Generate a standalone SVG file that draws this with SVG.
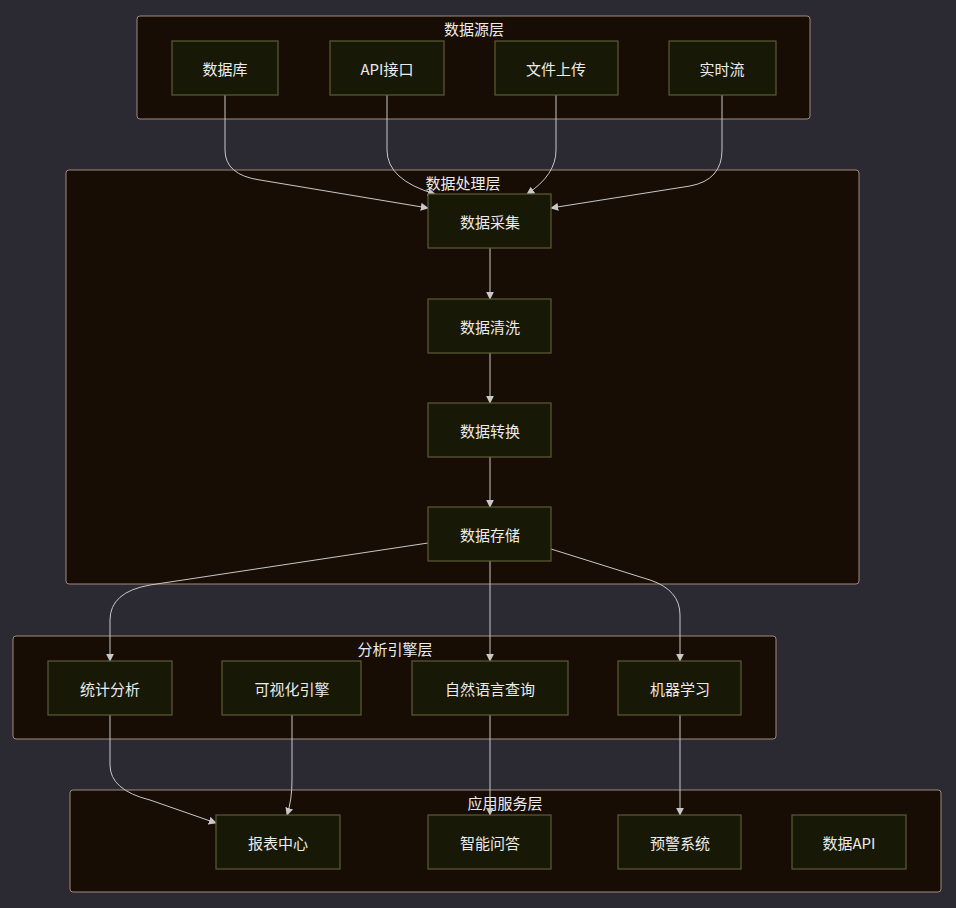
<svg xmlns="http://www.w3.org/2000/svg" width="956" height="908" viewBox="0 0 956 908">
<style>
.cl{fill:#180d05;stroke:#a08a78;stroke-width:1}
.nd{fill:#181807;stroke:#5c5c38;stroke-width:1.2}
text{font-family:"Noto Sans CJK SC","Liberation Sans",sans-serif;font-size:15px;fill:#ececec;text-anchor:middle;dominant-baseline:central}
.e{fill:none;stroke:#c8c8c8;stroke-width:1}
</style>
<defs><marker id="a" viewBox="0 0 10 10" refX="9" refY="5" markerWidth="8" markerHeight="8" orient="auto"><path d="M0 0L10 5L0 10z" fill="#c8c8c8"/></marker></defs>
<rect width="956" height="908" fill="#2b2a33"/>
<g id="c1"><rect class="cl" x="137" y="16" width="673" height="103" rx="3"/><text x="474" y="28">数据源层</text></g>
<g id="c2"><rect class="cl" x="66" y="170" width="793" height="414" rx="3"/><text x="463" y="182">数据处理层</text></g>
<g id="c3"><rect class="cl" x="13" y="636" width="763" height="103" rx="3"/><text x="395" y="648">分析引擎层</text></g>
<g id="c4"><rect class="cl" x="70" y="790" width="871" height="102" rx="3"/><text x="505" y="802">应用服务层</text></g>
<g id="edges">
<path class="e" marker-end="url(#a)" d="M225 95V150Q225 175 260 180L428 208"/>
<path class="e" marker-end="url(#a)" d="M387 95V150Q387 180 435 194"/>
<path class="e" marker-end="url(#a)" d="M556 95V150Q556 175 527 194"/>
<path class="e" marker-end="url(#a)" d="M722 95V150Q722 180 690 186L551 208"/>
<path class="e" marker-end="url(#a)" d="M490 248V299"/>
<path class="e" marker-end="url(#a)" d="M490 353V403"/>
<path class="e" marker-end="url(#a)" d="M490 457V507"/>
<path class="e" marker-end="url(#a)" d="M428 543L150 585Q110 592 110 620V661"/>
<path class="e" marker-end="url(#a)" d="M490 561V661"/>
<path class="e" marker-end="url(#a)" d="M551 549L650 580Q680 590 680 615V661"/>
<path class="e" marker-end="url(#a)" d="M110 715V765Q110 790 150 800L216 823"/>
<path class="e" marker-end="url(#a)" d="M292 715V780Q292 800 287 815"/>
<path class="e" marker-end="url(#a)" d="M490 715V815"/>
<path class="e" marker-end="url(#a)" d="M680 715V815"/>
</g>
<g id="n1"><rect class="nd" x="172" y="41" width="106" height="54"/><text x="225" y="68">数据库</text></g>
<g id="n2"><rect class="nd" x="330" y="41" width="114" height="54"/><text x="387" y="68">API接口</text></g>
<g id="n3"><rect class="nd" x="495" y="41" width="123" height="54"/><text x="556" y="68">文件上传</text></g>
<g id="n4"><rect class="nd" x="669" y="41" width="107" height="54"/><text x="722" y="68">实时流</text></g>
<g id="n5"><rect class="nd" x="428" y="194" width="123" height="54"/><text x="490" y="221">数据采集</text></g>
<g id="n6"><rect class="nd" x="428" y="299" width="123" height="54"/><text x="490" y="326">数据清洗</text></g>
<g id="n7"><rect class="nd" x="428" y="403" width="123" height="54"/><text x="490" y="430">数据转换</text></g>
<g id="n8"><rect class="nd" x="428" y="507" width="123" height="54"/><text x="490" y="534">数据存储</text></g>
<g id="n9"><rect class="nd" x="48" y="661" width="124" height="54"/><text x="110" y="688">统计分析</text></g>
<g id="n10"><rect class="nd" x="222" y="661" width="139" height="54"/><text x="292" y="688">可视化引擎</text></g>
<g id="n11"><rect class="nd" x="412" y="661" width="156" height="54"/><text x="490" y="688">自然语言查询</text></g>
<g id="n12"><rect class="nd" x="618" y="661" width="123" height="54"/><text x="680" y="688">机器学习</text></g>
<g id="n13"><rect class="nd" x="216" y="815" width="124" height="54"/><text x="278" y="842">报表中心</text></g>
<g id="n14"><rect class="nd" x="428" y="815" width="123" height="54"/><text x="490" y="842">智能问答</text></g>
<g id="n15"><rect class="nd" x="618" y="815" width="123" height="54"/><text x="680" y="842">预警系统</text></g>
<g id="n16"><rect class="nd" x="792" y="815" width="114" height="54"/><text x="849" y="842">数据API</text></g>
</svg>
